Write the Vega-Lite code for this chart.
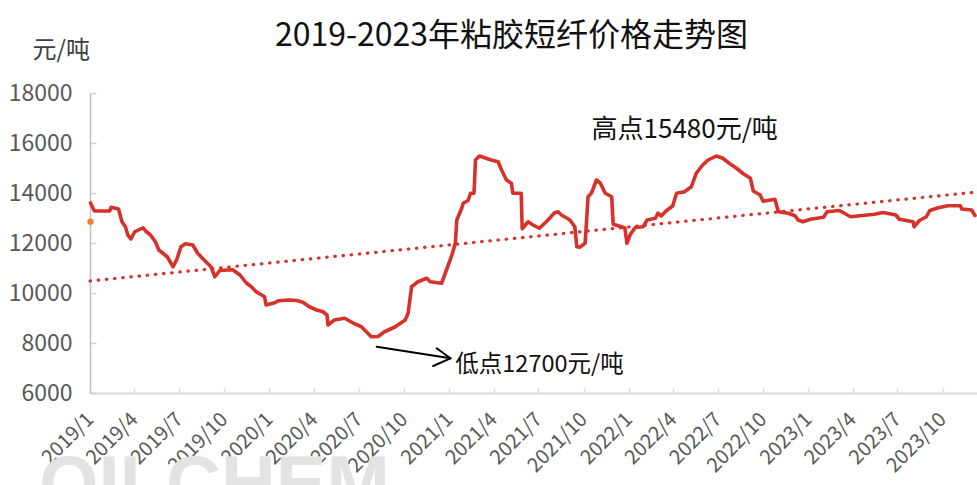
{
  "$schema": "https://vega.github.io/schema/vega-lite/v6.json",
  "autosize": {"type": "none"},
  "width": 887,
  "height": 300,
  "padding": {"left": 90, "top": 93, "right": 0, "bottom": 92},
  "background": "white",
  "config": {"view": {"stroke": null}, "font": "Noto Sans CJK SC"},
  "title": {"text": "2019-2023年粘胶短纤价格走势图", "fontSize": 32, "font": "Noto Sans CJK SC", "fontWeight": "normal", "color": "#111111", "anchor": "middle", "dx": -22, "offset": -47, "baseline": "bottom"},
  "datasets": {
    "main": [
      {"date": "2019-01-02", "value": 13600}, {"date": "2019-01-10", "value": 13280}, {"date": "2019-02-10", "value": 13280},
      {"date": "2019-02-13", "value": 13430}, {"date": "2019-02-28", "value": 13360}, {"date": "2019-03-07", "value": 12850},
      {"date": "2019-03-14", "value": 12650}, {"date": "2019-03-19", "value": 12320}, {"date": "2019-03-25", "value": 12160},
      {"date": "2019-04-02", "value": 12450}, {"date": "2019-04-19", "value": 12610}, {"date": "2019-04-24", "value": 12480},
      {"date": "2019-05-04", "value": 12320}, {"date": "2019-05-14", "value": 12050}, {"date": "2019-05-21", "value": 11720},
      {"date": "2019-06-07", "value": 11450}, {"date": "2019-06-19", "value": 11050}, {"date": "2019-06-26", "value": 11320},
      {"date": "2019-07-05", "value": 11850}, {"date": "2019-07-14", "value": 11970}, {"date": "2019-07-29", "value": 11920},
      {"date": "2019-08-08", "value": 11590}, {"date": "2019-08-21", "value": 11320}, {"date": "2019-09-04", "value": 11050},
      {"date": "2019-09-12", "value": 10650}, {"date": "2019-09-22", "value": 10900}, {"date": "2019-10-18", "value": 10930},
      {"date": "2019-11-02", "value": 10720}, {"date": "2019-11-15", "value": 10400}, {"date": "2019-11-25", "value": 10250},
      {"date": "2019-12-05", "value": 10050}, {"date": "2019-12-22", "value": 9850}, {"date": "2019-12-25", "value": 9520},
      {"date": "2020-01-12", "value": 9610}, {"date": "2020-01-19", "value": 9690}, {"date": "2020-02-10", "value": 9720},
      {"date": "2020-02-25", "value": 9700}, {"date": "2020-03-09", "value": 9630}, {"date": "2020-03-22", "value": 9450},
      {"date": "2020-04-06", "value": 9320}, {"date": "2020-04-19", "value": 9250}, {"date": "2020-04-27", "value": 9120},
      {"date": "2020-04-29", "value": 8720}, {"date": "2020-05-12", "value": 8920}, {"date": "2020-06-02", "value": 8990},
      {"date": "2020-06-20", "value": 8790}, {"date": "2020-07-06", "value": 8650}, {"date": "2020-07-19", "value": 8390},
      {"date": "2020-07-26", "value": 8250}, {"date": "2020-08-09", "value": 8260}, {"date": "2020-08-22", "value": 8450},
      {"date": "2020-09-13", "value": 8650}, {"date": "2020-10-03", "value": 8920}, {"date": "2020-10-09", "value": 9190},
      {"date": "2020-10-16", "value": 10250}, {"date": "2020-10-29", "value": 10450}, {"date": "2020-11-16", "value": 10590},
      {"date": "2020-11-23", "value": 10450}, {"date": "2020-12-16", "value": 10390}, {"date": "2020-12-26", "value": 10920},
      {"date": "2021-01-06", "value": 11520}, {"date": "2021-01-13", "value": 11990}, {"date": "2021-01-16", "value": 12920},
      {"date": "2021-01-26", "value": 13390}, {"date": "2021-01-29", "value": 13590}, {"date": "2021-02-08", "value": 13700},
      {"date": "2021-02-13", "value": 13990}, {"date": "2021-02-20", "value": 13990}, {"date": "2021-02-23", "value": 15320},
      {"date": "2021-03-03", "value": 15480}, {"date": "2021-03-27", "value": 15320}, {"date": "2021-04-10", "value": 15250},
      {"date": "2021-04-17", "value": 14920}, {"date": "2021-04-27", "value": 14520}, {"date": "2021-05-07", "value": 14390},
      {"date": "2021-05-10", "value": 13990}, {"date": "2021-05-27", "value": 13990}, {"date": "2021-05-29", "value": 12570},
      {"date": "2021-06-10", "value": 12850}, {"date": "2021-06-20", "value": 12720}, {"date": "2021-07-03", "value": 12590},
      {"date": "2021-07-17", "value": 12850}, {"date": "2021-08-03", "value": 13210}, {"date": "2021-08-10", "value": 13250},
      {"date": "2021-08-17", "value": 13120}, {"date": "2021-09-03", "value": 12920}, {"date": "2021-09-13", "value": 12650},
      {"date": "2021-09-17", "value": 11850}, {"date": "2021-09-23", "value": 11830}, {"date": "2021-10-04", "value": 11990},
      {"date": "2021-10-10", "value": 13850}, {"date": "2021-10-17", "value": 14000}, {"date": "2021-10-27", "value": 14520},
      {"date": "2021-11-04", "value": 14390}, {"date": "2021-11-14", "value": 13990}, {"date": "2021-11-27", "value": 13850},
      {"date": "2021-11-30", "value": 12750}, {"date": "2021-12-17", "value": 12650}, {"date": "2021-12-24", "value": 12590},
      {"date": "2021-12-28", "value": 11990}, {"date": "2022-01-04", "value": 12350}, {"date": "2022-01-14", "value": 12620},
      {"date": "2022-01-30", "value": 12650}, {"date": "2022-02-07", "value": 12920}, {"date": "2022-02-24", "value": 12990},
      {"date": "2022-03-01", "value": 13190}, {"date": "2022-03-08", "value": 13080}, {"date": "2022-03-18", "value": 13290},
      {"date": "2022-03-31", "value": 13480}, {"date": "2022-04-08", "value": 13990}, {"date": "2022-04-24", "value": 14050},
      {"date": "2022-05-08", "value": 14250}, {"date": "2022-05-18", "value": 14790}, {"date": "2022-05-31", "value": 15120},
      {"date": "2022-06-11", "value": 15320}, {"date": "2022-06-28", "value": 15480}, {"date": "2022-07-11", "value": 15390},
      {"date": "2022-07-24", "value": 15190}, {"date": "2022-08-08", "value": 14990}, {"date": "2022-08-21", "value": 14780},
      {"date": "2022-09-05", "value": 14590}, {"date": "2022-09-11", "value": 14080}, {"date": "2022-09-25", "value": 13920},
      {"date": "2022-10-01", "value": 13670}, {"date": "2022-10-25", "value": 13750}, {"date": "2022-11-01", "value": 13250},
      {"date": "2022-11-21", "value": 13190}, {"date": "2022-12-05", "value": 13090}, {"date": "2022-12-11", "value": 12920},
      {"date": "2022-12-21", "value": 12850}, {"date": "2023-01-05", "value": 12950}, {"date": "2023-02-01", "value": 13030},
      {"date": "2023-02-08", "value": 13250}, {"date": "2023-03-05", "value": 13300}, {"date": "2023-03-28", "value": 13050},
      {"date": "2023-05-15", "value": 13150}, {"date": "2023-06-02", "value": 13220}, {"date": "2023-06-28", "value": 13120},
      {"date": "2023-07-05", "value": 12950}, {"date": "2023-08-02", "value": 12850}, {"date": "2023-08-04", "value": 12650},
      {"date": "2023-08-15", "value": 12900}, {"date": "2023-08-29", "value": 13050}, {"date": "2023-09-05", "value": 13300},
      {"date": "2023-09-22", "value": 13410}, {"date": "2023-10-12", "value": 13490}, {"date": "2023-11-06", "value": 13490},
      {"date": "2023-11-09", "value": 13360}, {"date": "2023-11-29", "value": 13320}, {"date": "2023-12-06", "value": 13100}
    ]
  },
  "encoding": {
    "x": {
      "field": "date", "type": "temporal",
      "scale": {"type": "utc", "domain": ["2019-01-01", "2023-12-10"], "nice": false},
      "axis": {
        "title": null, "format": "%Y/%-m", "tickCount": {"interval": "month", "step": 3},
        "labelAngle": -45, "labelAlign": "right", "labelBaseline": "middle",
        "labelFontSize": 20, "labelColor": "#595959", "labelFont": "Noto Sans CJK SC",
        "labelPadding": 28, "labelFlush": false, "labelOverlap": false, "labelBound": false,
        "domainColor": "#d9d9d9", "domainWidth": 2, "tickColor": "#d9d9d9", "tickSize": -5, "tickWidth": 1.5,
        "grid": false
      }
    },
    "y": {
      "field": "value", "type": "quantitative",
      "scale": {"domain": [6000, 18000], "nice": false, "zero": false},
      "axis": {
        "values": [6000, 8000, 10000, 12000, 14000, 16000, 18000], "format": "d",
        "labelFontSize": 23, "labelColor": "#595959", "labelFont": "Noto Sans CJK SC", "labelPadding": 24,
        "domainColor": "#bfbfbf", "domainWidth": 1.5, "tickColor": "#d0d0d0", "tickSize": -6, "tickWidth": 1.5,
        "grid": false,
        "title": "元/吨", "titleAngle": 0, "titleX": -58, "titleY": -43, "titleAlign": "left", "titleBaseline": "middle",
        "titleFontSize": 24, "titleFontWeight": "normal", "titleColor": "#404040", "titleFont": "Noto Sans CJK SC"
      }
    }
  },
  "layer": [
    {
      "data": {"values": [{"date": "2019-01-01", "value": 10480}, {"date": "2023-12-10", "value": 14040}]},
      "mark": {"type": "line", "color": "#d6322a", "strokeWidth": 3.2, "strokeDash": [0.5, 7.7], "strokeCap": "round"}
    },
    {
      "data": {"name": "main"},
      "mark": {"type": "line", "color": "#d6322a", "strokeWidth": 3.6, "strokeJoin": "round", "strokeCap": "round"}
    },
    {
      "data": {"values": [{"date": "2019-01-02", "value": 12850}]},
      "mark": {"type": "point", "filled": true, "color": "#ed7d31", "size": 40, "opacity": 1}
    },
    {
      "data": {"values": [
        {"date": "2020-08-06", "value": 7852, "date2": "2021-01-03", "value2": 7388},
        {"date": "2020-12-06", "value": 7788, "date2": "2021-01-03", "value2": 7388},
        {"date": "2020-11-29", "value": 7080, "date2": "2021-01-03", "value2": 7388}
      ]},
      "mark": {"type": "rule", "color": "#000000", "strokeWidth": 2, "strokeCap": "round"},
      "encoding": {"x2": {"field": "date2"}, "y2": {"field": "value2"}}
    },
    {
      "data": {"values": [{"date": "2021-10-17", "value": 16520, "label": "高点15480元/吨"}]},
      "mark": {"type": "text", "align": "left", "baseline": "middle", "fontSize": 26, "font": "Noto Sans CJK SC", "color": "#111111"},
      "encoding": {"text": {"field": "label"}}
    },
    {
      "data": {"values": [{"date": "2021-01-13", "value": 7120, "label": "低点12700元/吨"}]},
      "mark": {"type": "text", "align": "left", "baseline": "middle", "fontSize": 23.5, "font": "Noto Sans CJK SC", "color": "#111111"},
      "encoding": {"text": {"field": "label"}}
    },
    {
      "data": {"values": [{"date": "2018-09-20", "value": 1360, "label": "OILCHEM"}]},
      "mark": {"type": "text", "align": "left", "baseline": "alphabetic", "fontSize": 76, "fontWeight": "bold", "font": "Liberation Sans", "color": "#e3e3e3"},
      "encoding": {"text": {"field": "label"}}
    }
  ]
}
